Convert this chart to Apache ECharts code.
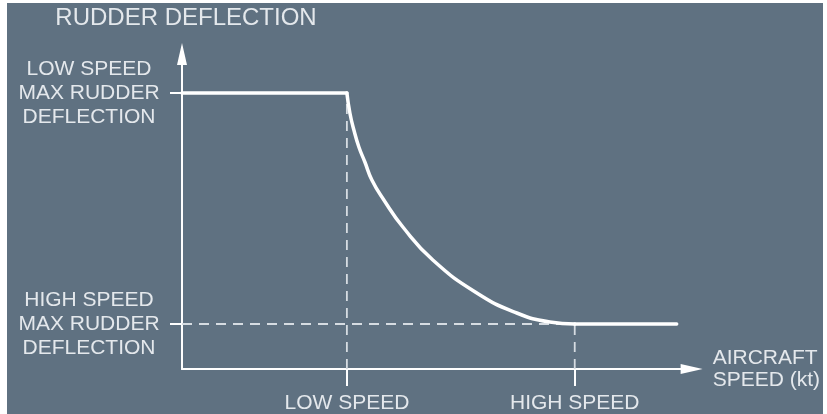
<!DOCTYPE html>
<html>
<head>
<meta charset="utf-8">
<script src="https://cdn.jsdelivr.net/npm/echarts@6/dist/echarts.min.js"></script>
<style>
  html, body { margin: 0; padding: 0; background: #ffffff; }
  #chart { position: absolute; left: 7px; top: 3px; width: 816px; height: 411px; }
</style>
</head>
<body>
<div id="chart"></div>
<script>
// Speed axis (arbitrary units) and rudder deflection (arbitrary units)
const speedTicks = [16.5, 39.3];
const speedTickLabels = ['LOW SPEED', 'HIGH SPEED'];
const deflTicks = [4.5, 27.6];
const deflTickLabels = [['HIGH SPEED', 'MAX RUDDER', 'DEFLECTION'], ['LOW SPEED', 'MAX RUDDER', 'DEFLECTION']];

const topFlat = [[0, 27.6], [16.5, 27.6]];
const curveX = [16.5, 16.8, 17.2, 17.7, 18.3, 19.0, 20.2, 22.1, 25.1, 29.5, 33.5, 36.8, 39.3];
const curveY = [27.6, 25.6, 23.9, 22.2, 20.7, 18.9, 16.9, 14.2, 10.9, 7.6, 5.6, 4.7, 4.5];
const bottomFlat = [[39.3, 4.5], [49.5, 4.5]];
const dashHigh = [[0, 4.5], [39.3, 4.5]];
const dashLowV = [[16.5, 0], [16.5, 27.6]];
const dashHighV = [[39.3, 0], [39.3, 4.5]];

const txt = '#e4e8ec';
const dashStyle = { color: '#d6dce2', width: 1.8, type: [10, 7] };
const solidStyle = { color: '#ffffff', width: 3.5, cap: 'round', join: 'round' };

const chart = echarts.init(document.getElementById('chart'));
chart.setOption({
  backgroundColor: '#5f7181',
  animation: false,
  grid: { left: 175, right: 131, top: 51, bottom: 45 },
  xAxis: {
    type: 'value', min: 0, max: 51,
    name: 'AIRCRAFT\nSPEED (kt)', nameLocation: 'end', nameGap: 21,
    nameTextStyle: { color: txt, fontSize: 21, fontFamily: 'Liberation Sans', align: 'left', verticalAlign: 'middle', lineHeight: 22 },
    splitLine: { show: false },
    axisLine: { lineStyle: { color: '#ffffff', width: 2 }, symbol: ['none', 'triangle'], symbolSize: [10, 22] },
    axisTick: { show: true, customValues: speedTicks, length: 17, lineStyle: { color: '#ffffff', width: 2 } },
    axisLabel: {
      customValues: speedTicks, margin: 24, color: txt, fontSize: 21, fontFamily: 'Liberation Sans',
      formatter: v => speedTickLabels[speedTicks.indexOf(v)]
    }
  },
  yAxis: {
    type: 'value', min: 0, max: 31.5,
    name: 'RUDDER DEFLECTION', nameLocation: 'end', nameGap: 24,
    nameTextStyle: { color: txt, fontSize: 24, fontFamily: 'Liberation Sans', padding: [0, 0, 0, 8] },
    splitLine: { show: false },
    axisLine: { lineStyle: { color: '#ffffff', width: 2 }, symbol: ['none', 'triangle'], symbolSize: [10, 22] },
    axisTick: { show: true, customValues: deflTicks, length: 12, lineStyle: { color: '#ffffff', width: 2 } },
    axisLabel: {
      customValues: deflTicks, margin: 18,
      formatter: v => deflTickLabels[deflTicks.indexOf(v)].map(s => '{c|' + s + '}').join('\n'),
      rich: { c: { width: 150, align: 'center', color: txt, fontSize: 21, lineHeight: 24, fontFamily: 'Liberation Sans' } }
    }
  },
  series: [
    { type: 'line', data: dashHigh, showSymbol: false, clip: false, lineStyle: dashStyle, silent: true },
    { type: 'line', data: dashLowV, showSymbol: false, clip: false, lineStyle: dashStyle, silent: true },
    { type: 'line', data: dashHighV, showSymbol: false, clip: false, lineStyle: dashStyle, silent: true },
    { type: 'line', data: topFlat, showSymbol: false, clip: false, lineStyle: solidStyle, silent: true },
    { type: 'line', data: curveX.map((x, i) => [x, curveY[i]]), smooth: 0.5, showSymbol: false, clip: false, lineStyle: solidStyle, silent: true },
    { type: 'line', data: bottomFlat, showSymbol: false, clip: false, lineStyle: solidStyle, silent: true }
  ]
});
</script>
</body>
</html>
